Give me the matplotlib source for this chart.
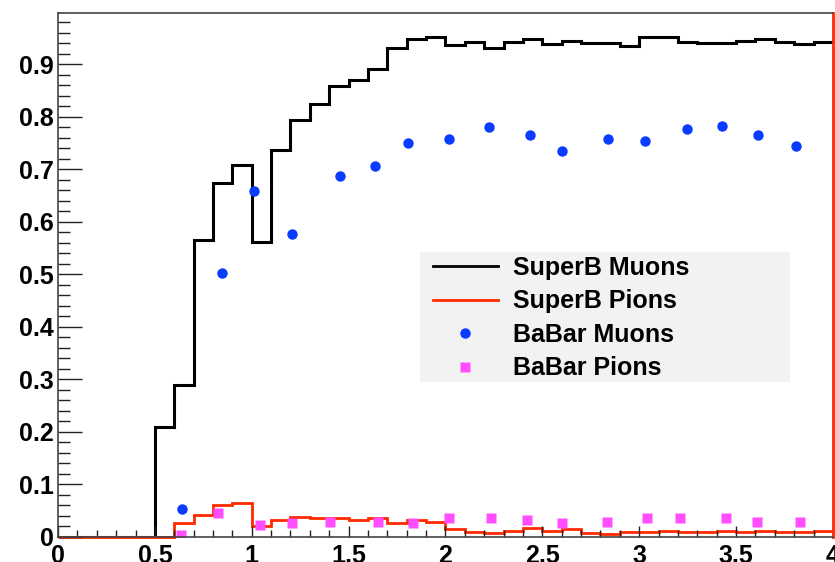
import numpy as np
import matplotlib
matplotlib.use("Agg")
import matplotlib.pyplot as plt
from matplotlib.patches import Rectangle
from matplotlib.ticker import MultipleLocator, FixedFormatter, FixedLocator

plt.rcParams['font.family'] = ['Liberation Sans', 'DejaVu Sans']
plt.rcParams['font.weight'] = 'bold'

# momentum bins, 0.1 wide from 0 to 4
edges = np.round(np.arange(0, 4.01, 0.1), 2)

# SuperB efficiencies per bin
superb_muons = [0, 0, 0, 0, 0, 0.21, 0.29, 0.565, 0.675, 0.709,
                0.561, 0.737, 0.794, 0.825, 0.859, 0.870, 0.891, 0.931, 0.949, 0.953,
                0.937, 0.942, 0.931, 0.942, 0.948, 0.939, 0.944, 0.941, 0.941, 0.936,
                0.953, 0.953, 0.943, 0.941, 0.941, 0.944, 0.948, 0.943, 0.939, 0.942]
superb_pions = [0, 0, 0, 0, 0, 0, 0.027, 0.042, 0.060, 0.064,
                0.021, 0.032, 0.039, 0.036, 0.036, 0.032, 0.037, 0.027, 0.033, 0.029,
                0.015, 0.010, 0.008, 0.011, 0.017, 0.011, 0.015, 0.008, 0.005, 0.010,
                0.010, 0.011, 0.009, 0.009, 0.011, 0.009, 0.011, 0.009, 0.009, 0.011]

# BaBar measurements
babar_mu_p = [0.641, 0.844, 1.010, 1.210, 1.454, 1.634, 1.806, 2.02, 2.227,
              2.438, 2.601, 2.837, 3.029, 3.249, 3.430, 3.615, 3.809]
babar_mu_eff = [0.053, 0.502, 0.659, 0.577, 0.688, 0.707, 0.750, 0.757, 0.781,
                0.766, 0.736, 0.757, 0.754, 0.777, 0.783, 0.766, 0.745]
babar_pi_p = [0.637, 0.826, 1.041, 1.206, 1.402, 1.651, 1.832, 2.02, 2.235,
              2.419, 2.601, 2.832, 3.038, 3.21, 3.447, 3.607, 3.828]
babar_pi_eff = [0.004, 0.045, 0.022, 0.027, 0.029, 0.029, 0.027, 0.037, 0.037,
                0.032, 0.027, 0.029, 0.036, 0.036, 0.036, 0.029, 0.029]

xticks = [0, 0.5, 1, 1.5, 2, 2.5, 3, 3.5, 4]
xtick_labels = ['0', '0.5', '1', '1.5', '2', '2.5', '3', '3.5', '4']
yticks = [0, 0.1, 0.2, 0.3, 0.4, 0.5, 0.6, 0.7, 0.8, 0.9]
ytick_labels = ['0', '0.1', '0.2', '0.3', '0.4', '0.5', '0.6', '0.7', '0.8', '0.9']

fig = plt.figure(figsize=(8.35, 5.62), dpi=100)
ax = fig.add_axes([0.0695, 0.0445, 0.928, 0.932])

ax.stairs(superb_muons, edges, color='black', lw=2.2, baseline=None, label='SuperB Muons')
ax.stairs(superb_pions, edges, color='#ff2a00', lw=2.0, baseline=None, label='SuperB Pions',
          clip_on=False)
ax.plot(babar_mu_p, babar_mu_eff, 'o', color='#0a3cff', ms=7.5, mec='none', label='BaBar Muons')
ax.plot(babar_pi_p, babar_pi_eff, 's', color='#ff4dff', ms=7.5, mec='none', label='BaBar Pions')

ax.set_xlim(0, 4)
ax.set_ylim(0, 0.9975)

ax.xaxis.set_major_locator(FixedLocator(xticks))
ax.xaxis.set_major_formatter(FixedFormatter(xtick_labels))
ax.xaxis.set_minor_locator(MultipleLocator(0.1))
ax.yaxis.set_major_locator(FixedLocator(yticks))
ax.yaxis.set_major_formatter(FixedFormatter(ytick_labels))
ax.yaxis.set_minor_locator(MultipleLocator(0.02))

ax.tick_params(axis='both', which='both', direction='in', top=False, right=False,
               color='#222222', width=1.0, labelsize=18)
ax.tick_params(axis='x', which='major', length=8, pad=5)
ax.tick_params(axis='x', which='minor', length=5)
ax.tick_params(axis='y', which='major', length=17, pad=3)
ax.tick_params(axis='y', which='minor', length=8.5)
for lab in ax.get_xticklabels() + ax.get_yticklabels():
    lab.set_fontweight('bold')

for side in ('left', 'top', 'bottom'):
    ax.spines[side].set_color('#444444')
    ax.spines[side].set_linewidth(1.2)
ax.spines['right'].set_color('#ff2a00')
ax.spines['right'].set_linewidth(2.0)

# legend: grey panel plus frameless entries on top of it
ax.add_patch(Rectangle((0.467, 0.2966), 0.478, 0.2482, transform=ax.transAxes,
                       facecolor='#f2f2f2', edgecolor='none', zorder=4))
leg = ax.legend(loc='center left', bbox_to_anchor=(0.4839, 0.418),
                frameon=False, prop={'size': 18, 'weight': 'bold'},
                handlelength=2.6, handletextpad=0.6, labelspacing=0.38,
                borderpad=0, borderaxespad=0)
leg.set_zorder(5)
for h in leg.legend_handles[:2]:
    h.set_linewidth(2.0)

fig.savefig('out.png', dpi=100)
